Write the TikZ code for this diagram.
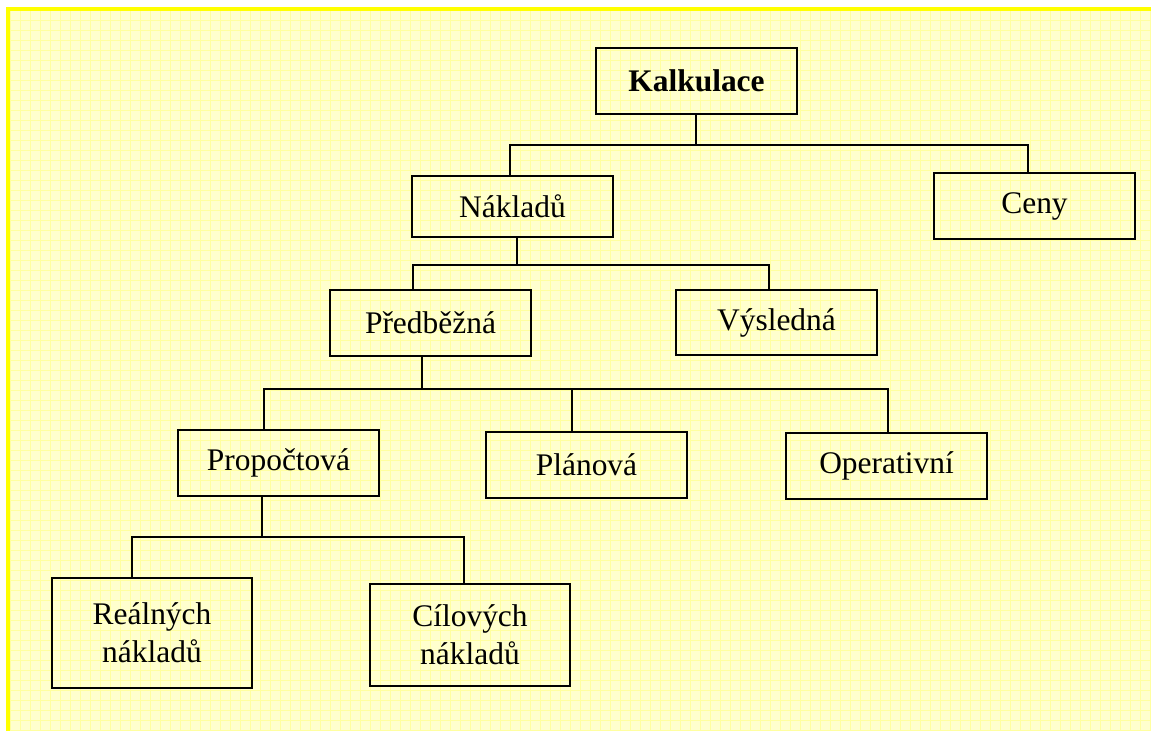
\documentclass[tikz,border=0pt]{standalone}
\usepackage{fontspec}
\setmainfont{Liberation Serif}
\usepackage{xcolor}
\usepackage{tikz}
\usetikzlibrary{positioning,calc}

\definecolor{paper}{RGB}{255,255,206}
\definecolor{paperline}{RGB}{255,255,160}
\definecolor{edgeyellow}{RGB}{255,255,0}

\begin{document}
\begin{tikzpicture}[
  x=0.02cm, y=-0.02cm,
  kbox/.style={draw, line width=1.1pt, minimum width=4.02cm, minimum height=1.32cm, align=center, font=\fontsize{17.9}{21.6}\selectfont},
  conn/.style={draw, line width=1.1pt}
]
\useasboundingbox (0,0) rectangle (1151,731);
% background sheet
\fill [paper] (6,7) rectangle (1151,731);
\begin{scope}
  \clip (6,7) rectangle (1151,731);
  \draw [paperline, line width=0.3pt, step=0.2cm] (0,0) grid (1151,731);
\end{scope}
\draw [edgeyellow, line width=0.08cm] (8,731) -- (8,9) -- (1151,9);

\node [kbox, font=\fontsize{17.9}{21.6}\selectfont\bfseries] (kalk) at (696.5,81) {Kalkulace};
\node [kbox, minimum height=1.22cm] (nakl) at (512.5,206.5) {Nákladů};
\node [kbox] (ceny) at (1034.5,206) {Ceny};
\node [kbox] (predb) at (430.5,323) {Předběžná};
\node [kbox, minimum height=1.3cm] (vysl) at (776.5,322.5) {Výsledná};
\node [kbox] (propoc) at (278.5,463) {Propočtová};
\node [kbox] (plan) at (586.5,465) {Plánová};
\node [kbox] (oper) at (886.5,466) {Operativní};
\node [kbox, minimum width=4cm, minimum height=2.2cm] (real) at (152,633) {Reálných\\nákladů};
\node [kbox, minimum width=4cm, minimum height=2.04cm] (cil) at (470,635) {Cílových\\nákladů};

% tree links
\draw [conn] ([xshift=-0.01cm]kalk.south) -- ++(0,30) -| ([xshift=-0.05cm]nakl.north);
\draw [conn] ([xshift=-0.01cm]kalk.south) ++(0,30) -| ([xshift=-0.13cm]ceny.north);
\draw [conn] ([xshift=0.09cm]nakl.south) -- ++(0,27) -| ([xshift=-0.35cm]predb.north);
\draw [conn] ([xshift=0.09cm]nakl.south) ++(0,27) -| ([xshift=-0.15cm]vysl.north);
\draw [conn] ([xshift=-0.17cm]predb.south) -- ++(0,32) -| ([xshift=-0.29cm]propoc.north);
\draw [conn] ([xshift=-0.17cm]predb.south) ++(0,32) -| ([xshift=-0.29cm]plan.north);
\draw [conn] ([xshift=-0.17cm]predb.south) ++(0,32) -| ([xshift=0.03cm]oper.north);
\draw [conn] ([xshift=-0.33cm]propoc.south) -- ++(0,40) -| ([xshift=-0.4cm]real.north);
\draw [conn] ([xshift=-0.33cm]propoc.south) ++(0,40) -| ([xshift=-0.12cm]cil.north);
\end{tikzpicture}
\end{document}
